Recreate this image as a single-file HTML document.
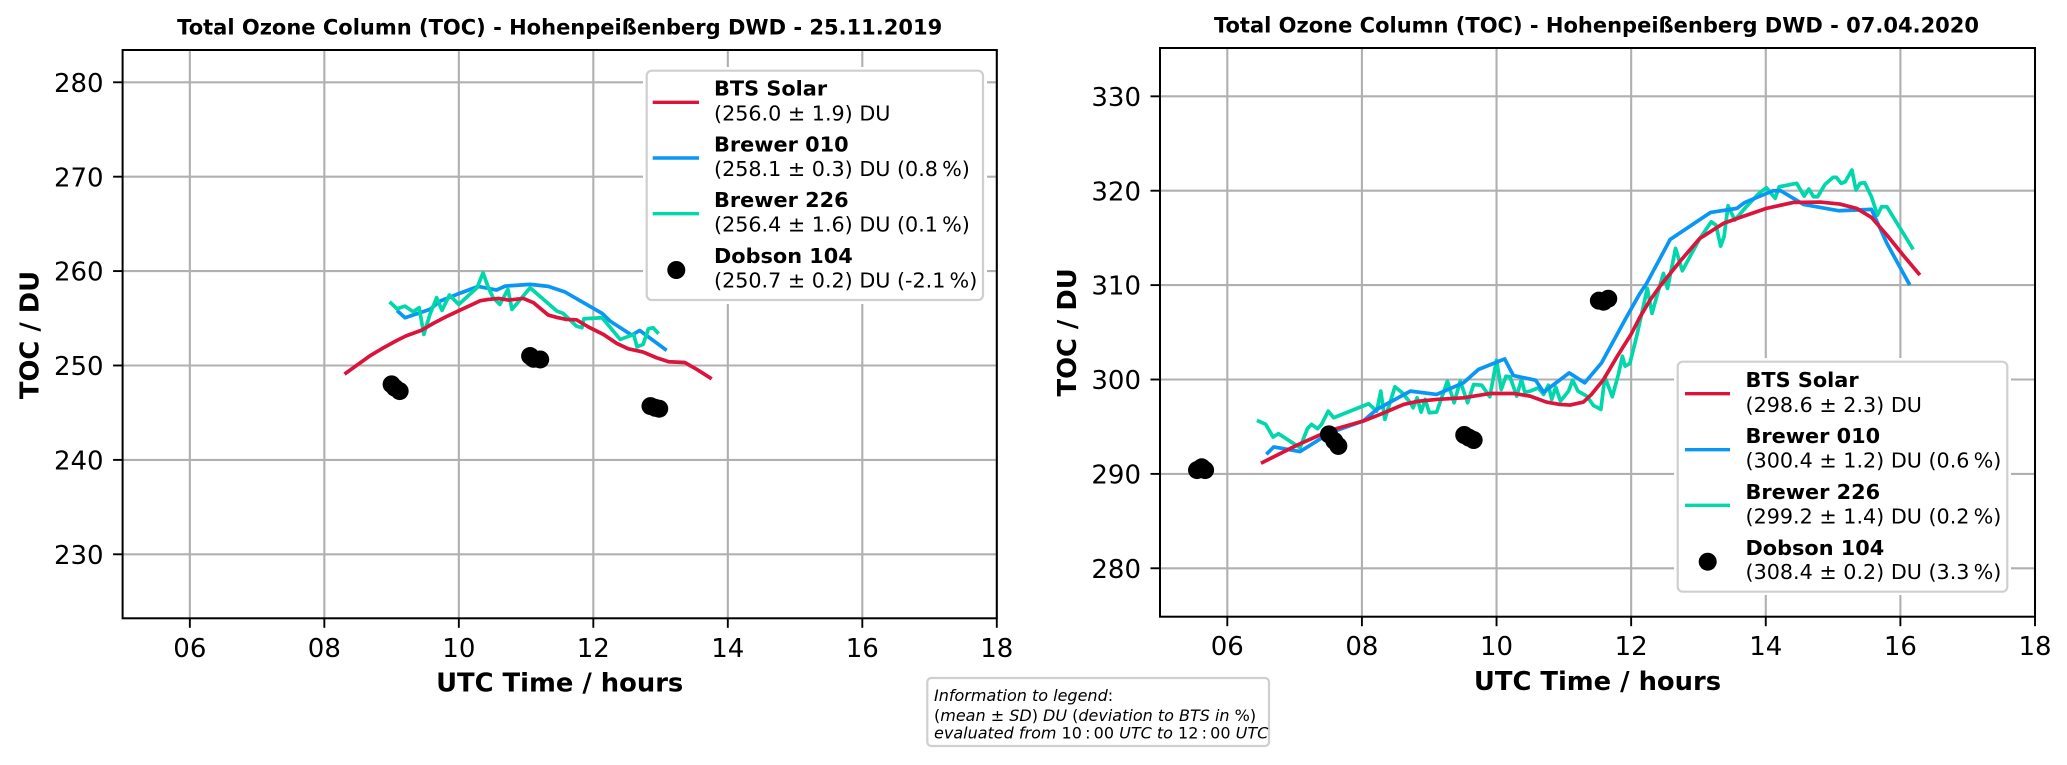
<!DOCTYPE html>
<html lang="en">
<head>
<meta charset="utf-8">
<title>Total Ozone Column (TOC) - Hohenpeißenberg DWD</title>
<style>
html,body{margin:0;padding:0;background:#fff;width:2067px;height:765px;overflow:hidden}
svg{display:block;font-family:"DejaVu Sans","Liberation Sans",sans-serif;fill:#000}
.ttl{font-size:21px;font-weight:700;text-anchor:middle}
.lab{font-size:25.8px;font-weight:700;text-anchor:middle}
.leg{font-size:20.7px}
.legb{font-size:20.83px;font-weight:700}
.frame{fill:#fff;stroke:#cfcfcf;stroke-width:2.2}
.pad{fill:#fff;stroke:none}
.info{font-size:16px}
.info tspan.i{font-style:italic}
.tick-text{font-size:26px}
</style>
</head>
<body>
<svg id="figure" width="2067" height="765" viewBox="0 0 2067 765" xmlns="http://www.w3.org/2000/svg">

  <g id="left-chart">
    <g id="left-grid"></g>
    <g id="left-series"></g>
    <g id="left-axes"></g>
    <text class="ttl" x="559.7" y="34.5">Total Ozone Column (TOC) - Hohenpeißenberg DWD - 25.11.2019</text>
    <text class="lab" x="559.7" y="691.7">UTC Time / hours</text>
    <text class="lab" transform="translate(38.3 335) rotate(-90)" x="0" y="0">TOC / DU</text>
    <g>
      <rect class="pad" x="643" y="67" width="344" height="237" rx="6"></rect>
      <rect class="frame" x="646.7" y="70.7" width="336.3" height="229.3" rx="5"></rect>
      <g>
        <line x1="652.7" x2="699" y1="102.3" y2="102.3" stroke="#dc143c" stroke-width="3.4"></line>
        <text class="legb" x="714" y="95.7">BTS Solar</text>
        <text class="leg" x="714" y="120.4">(256.0 ± 1.9) DU</text>
      </g>
      <g>
        <line x1="652.7" x2="699" y1="158" y2="158" stroke="#0a96f5" stroke-width="3.4"></line>
        <text class="legb" x="714" y="151.5">Brewer 010</text>
        <text class="leg" x="714" y="176">(258.1 ± 0.3) DU (0.8&#8201;%)</text>
      </g>
      <g>
        <line x1="652.7" x2="699" y1="213.7" y2="213.7" stroke="#00d7ab" stroke-width="3.4"></line>
        <text class="legb" x="714" y="207.2">Brewer 226</text>
        <text class="leg" x="714" y="231.7">(256.4 ± 1.6) DU (0.1&#8201;%)</text>
      </g>
      <g>
        <circle cx="676.3" cy="270" r="9" fill="#000"></circle>
        <text class="legb" x="714" y="263.2">Dobson 104</text>
        <text class="leg" x="714" y="287.4">(250.7 ± 0.2) DU (-2.1&#8201;%)</text>
      </g>
    </g>
  </g>

  <g id="right-chart">
    <g id="right-grid"></g>
    <g id="right-series"></g>
    <g id="right-axes"></g>
    <text class="ttl" x="1596.5" y="32.5">Total Ozone Column (TOC) - Hohenpeißenberg DWD - 07.04.2020</text>
    <text class="lab" x="1597.5" y="690.2">UTC Time / hours</text>
    <text class="lab" transform="translate(1076 332.4) rotate(-90)" x="0" y="0">TOC / DU</text>
    <g>
      <rect class="pad" x="1674" y="358" width="337" height="237" rx="6"></rect>
      <rect class="frame" x="1677.7" y="361.7" width="329.6" height="230" rx="5"></rect>
      <g>
        <line x1="1685" x2="1730" y1="393.7" y2="393.7" stroke="#dc143c" stroke-width="3.4"></line>
        <text class="legb" x="1745.5" y="387.2">BTS Solar</text>
        <text class="leg" x="1745.5" y="412">(298.6 ± 2.3) DU</text>
      </g>
      <g>
        <line x1="1685" x2="1730" y1="449.7" y2="449.7" stroke="#0a96f5" stroke-width="3.4"></line>
        <text class="legb" x="1745.5" y="443">Brewer 010</text>
        <text class="leg" x="1745.5" y="467.6">(300.4 ± 1.2) DU (0.6&#8201;%)</text>
      </g>
      <g>
        <line x1="1685" x2="1730" y1="505.3" y2="505.3" stroke="#00d7ab" stroke-width="3.4"></line>
        <text class="legb" x="1745.5" y="498.8">Brewer 226</text>
        <text class="leg" x="1745.5" y="523.4">(299.2 ± 1.4) DU (0.2&#8201;%)</text>
      </g>
      <g>
        <circle cx="1707.7" cy="561.7" r="9" fill="#000"></circle>
        <text class="legb" x="1745.5" y="554.8">Dobson 104</text>
        <text class="leg" x="1745.5" y="579.2">(308.4 ± 0.2) DU (3.3&#8201;%)</text>
      </g>
    </g>
  </g>

  <g>
    <rect class="frame" x="927.3" y="678" width="341.7" height="68" rx="4"></rect>
    <text class="info" x="934" y="701"><tspan class="i">Information to legend</tspan>:</text>
    <text class="info" x="934" y="721">(<tspan class="i">mean</tspan> ± <tspan class="i">SD</tspan>) <tspan class="i">DU</tspan> (<tspan class="i">deviation to BTS in</tspan> %)</text>
    <text class="info" x="934" y="738.3"><tspan class="i">evaluated from</tspan> 10&#8201;:&#8201;00 <tspan class="i">UTC to</tspan> 12&#8201;:&#8201;00 <tspan class="i">UTC</tspan></text>
  </g>
</svg>

<script>
// Shared axis data
const xTickHours = [6, 8, 10, 12, 14, 16, 18];
const xTickLabels = ['06', '08', '10', '12', '14', '16', '18'];
const xLimits = [5, 18];

// Left chart: 25.11.2019
const leftYLimits = [223.22, 283.42];
const leftYTicks = [230, 240, 250, 260, 270, 280];
const leftBtsHours = [8.30,8.48,8.68,8.88,9.08,9.22,9.45,9.62,9.82,10.02,10.17,10.32,10.44,10.59,10.74,10.96,11.11,11.23,11.33,11.46,11.60,11.75,11.93,12.15,12.35,12.52,12.74,12.94,13.12,13.36,13.54,13.76];
const leftBtsValues = [249.09,250.01,251.03,251.88,252.66,253.15,253.75,254.46,255.20,255.87,256.36,256.86,257.00,257.10,256.93,257.10,256.65,255.94,255.34,255.09,254.88,254.84,254.07,253.29,252.34,251.77,251.42,250.82,250.40,250.32,249.58,248.59];
const leftBrewer010Hours = [9.08,9.20,9.57,9.72,9.97,10.29,10.56,10.69,11.06,11.33,11.58,12.13,12.25,12.57,12.69,13.09];
const leftBrewer010Values = [255.83,255.06,255.94,256.82,257.53,258.38,257.99,258.41,258.59,258.38,257.78,255.52,254.70,253.22,253.71,251.60];
const leftBrewer226Hours = [8.97,9.08,9.20,9.32,9.41,9.48,9.57,9.67,9.75,9.86,10.00,10.27,10.36,10.44,10.51,10.61,10.73,10.79,11.06,11.46,11.55,11.75,11.83,11.86,12.13,12.40,12.60,12.65,12.74,12.82,12.89,12.97];
const leftBrewer226Values = [256.75,256.01,256.29,255.69,256.12,253.29,255.41,257.18,255.83,257.46,256.47,258.23,259.82,258.23,257.18,256.47,258.06,255.94,258.23,255.76,255.52,254.17,254.00,254.95,255.06,252.76,253.29,251.98,252.23,253.89,254.00,253.36];
const leftDobsonHours = [9.00,9.05,9.12,11.06,11.11,11.21,12.85,12.92,12.98];
const leftDobsonValues = [248.00,247.64,247.29,251.00,250.71,250.64,245.70,245.52,245.42];

// Right chart: 07.04.2020
const rightYLimits = [274.87, 335.12];
const rightYTicks = [280, 290, 300, 310, 320, 330];
const rightBtsHours = [6.50,7.03,7.53,8.02,8.27,8.62,8.82,9.11,9.51,9.91,10.25,10.50,10.74,10.94,11.09,11.29,11.41,11.59,11.78,12.00,12.13,12.28,12.43,12.72,13.02,13.37,13.62,14.01,14.41,14.81,15.10,15.35,15.57,15.80,16.04,16.29];
const rightBtsValues = [291.13,293.03,294.61,295.60,296.30,297.36,297.68,297.89,298.06,298.52,298.52,298.24,297.61,297.36,297.29,297.61,298.42,300.00,302.30,304.80,306.60,308.40,309.90,312.47,314.95,316.54,317.17,318.13,318.76,318.80,318.59,318.13,317.17,315.30,313.18,311.06];
const rightBrewer010Hours = [6.58,6.69,7.08,7.53,8.02,8.22,8.72,9.11,9.51,9.73,10.12,10.25,10.58,10.70,11.08,11.31,11.56,11.91,12.13,12.23,12.58,13.18,13.57,13.69,14.11,14.22,14.56,15.08,15.57,15.80,16.14];
const rightBrewer010Values = [292.08,292.85,292.36,294.37,295.60,296.83,298.77,298.42,299.65,301.06,302.18,300.42,299.93,298.66,300.70,299.65,301.76,306.34,309.12,310.18,314.84,317.70,318.13,318.76,320.00,320.00,318.55,317.88,318.02,314.42,310.00];
const rightBrewer226Hours = [6.44,6.57,6.68,6.76,7.08,7.19,7.25,7.34,7.40,7.50,7.58,8.10,8.22,8.28,8.34,8.49,8.59,8.72,8.76,8.82,8.88,8.94,9.00,9.11,9.27,9.37,9.46,9.57,9.66,9.78,9.90,10.00,10.07,10.14,10.20,10.30,10.37,10.42,10.50,10.62,10.70,10.77,10.82,10.88,10.95,11.07,11.13,11.21,11.34,11.44,11.55,11.61,11.72,11.81,11.87,11.91,11.98,12.08,12.24,12.31,12.40,12.48,12.54,12.66,12.76,13.02,13.19,13.26,13.33,13.38,13.44,13.54,13.71,13.91,14.01,14.14,14.20,14.46,14.57,14.64,14.71,14.77,14.88,15.00,15.05,15.12,15.18,15.28,15.34,15.40,15.47,15.57,15.66,15.72,15.80,16.19];
const rightBrewer226Values = [295.67,295.25,293.90,294.26,292.78,294.79,295.25,294.79,295.25,296.65,295.95,297.43,296.65,298.77,295.77,299.23,298.66,297.54,297.00,298.06,296.55,297.89,296.48,296.55,299.82,297.54,299.82,297.54,299.47,299.40,298.17,302.04,298.94,300.35,300.28,298.24,300.00,298.66,298.77,299.12,298.42,299.40,297.89,299.19,297.71,298.77,299.93,298.77,298.24,297.25,296.83,300.28,298.17,300.53,302.46,301.41,301.69,304.52,309.65,307.00,309.29,311.24,309.65,313.89,311.52,314.95,316.71,316.36,314.13,315.12,318.41,316.89,318.30,319.79,320.32,319.19,320.42,320.78,319.43,320.18,319.36,319.36,320.67,321.41,321.41,320.78,320.95,322.19,320.07,320.78,320.85,319.36,317.42,318.30,318.30,313.78];
const rightDobsonHours = [5.55,5.62,5.67,7.51,7.59,7.65,9.52,9.59,9.66,11.52,11.59,11.66];
const rightDobsonValues = [290.40,290.70,290.40,294.19,293.49,292.96,294.12,293.84,293.59,308.35,308.24,308.56];

const SVG_NS = 'http://www.w3.org/2000/svg';
const COLOR_BTS = '#dc143c';
const COLOR_B010 = '#0a96f5';
const COLOR_B226 = '#00d7ab';

function linearScale(domain, range) {
  return function (v) {
    return range[0] + (v - domain[0]) * (range[1] - range[0]) / (domain[1] - domain[0]);
  };
}

function make(tag, attrs, parent) {
  const el = document.createElementNS(SVG_NS, tag);
  Object.keys(attrs).forEach(function (k) { el.setAttribute(k, attrs[k]); });
  parent.appendChild(el);
  return el;
}

function drawSeries(parent, hours, values, color, name, xs, ys) {
  const pts = hours.map(function (h, i) { return xs(h).toFixed(2) + ',' + ys(values[i]).toFixed(2); }).join(' ');
  const line = make('polyline', { points: pts, fill: 'none', stroke: color, 'stroke-width': 3.7, 'stroke-linejoin': 'round' }, parent);
  
  
}

function drawChart(prefix, box, yLimits, yTicks, series, dobsonHours, dobsonValues) {
  const xs = linearScale(xLimits, [box.left, box.right]);
  const ys = linearScale(yLimits, [box.bottom, box.top]);
  const grid = document.getElementById(prefix + '-grid');
  const marks = document.getElementById(prefix + '-series');
  const axes = document.getElementById(prefix + '-axes');

  xTickHours.forEach(function (h, i) {
    const x = xs(h);
    const g = make('line', { x1: x, x2: x, y1: box.top, y2: box.bottom, stroke: '#b0b0b0', 'stroke-width': 2.1 }, grid);
    
    
    const t = make('line', { x1: x, x2: x, y1: box.bottom, y2: box.bottom + 9.5, stroke: '#000', 'stroke-width': 1.9 }, axes);
    
    
    const l = make('text', { x: x, y: box.bottom + 38.5, 'text-anchor': 'middle', class: 'tick-text' }, axes);
    
    
    l.textContent = xTickLabels[i];
  });

  yTicks.forEach(function (v) {
    const y = ys(v);
    const g = make('line', { x1: box.left, x2: box.right, y1: y, y2: y, stroke: '#b0b0b0', 'stroke-width': 2.1 }, grid);
    
    
    const t = make('line', { x1: box.left - 9.5, x2: box.left, y1: y, y2: y, stroke: '#000', 'stroke-width': 1.9 }, axes);
    
    
    const l = make('text', { x: box.left - 19, y: y + 9.6, 'text-anchor': 'end', class: 'tick-text' }, axes);
    
    
    l.textContent = String(v);
  });

  series.forEach(function (s) {
    drawSeries(marks, s.hours, s.values, s.color, s.name, xs, ys);
  });

  dobsonHours.forEach(function (h, i) {
    const c = make('circle', { cx: xs(h), cy: ys(dobsonValues[i]), r: 9, fill: '#000' }, marks);
    
    
  });

  const frame = make('rect', { x: box.left, y: box.top, width: box.right - box.left, height: box.bottom - box.top, fill: 'none', stroke: '#000', 'stroke-width': 2 }, axes);
  
  
}

drawChart('left', { left: 122.6, right: 996.8, top: 50, bottom: 618.3 }, leftYLimits, leftYTicks, [
  { hours: leftBrewer010Hours, values: leftBrewer010Values, color: COLOR_B010, name: 'brewer-010-line' },
  { hours: leftBrewer226Hours, values: leftBrewer226Values, color: COLOR_B226, name: 'brewer-226-line' },
  { hours: leftBtsHours, values: leftBtsValues, color: COLOR_BTS, name: 'bts-solar-line' }
], leftDobsonHours, leftDobsonValues);

drawChart('right', { left: 1160, right: 2035, top: 48, bottom: 616.7 }, rightYLimits, rightYTicks, [
  { hours: rightBrewer226Hours, values: rightBrewer226Values, color: COLOR_B226, name: 'brewer-226-line' },
  { hours: rightBrewer010Hours, values: rightBrewer010Values, color: COLOR_B010, name: 'brewer-010-line' },
  { hours: rightBtsHours, values: rightBtsValues, color: COLOR_BTS, name: 'bts-solar-line' }
], rightDobsonHours, rightDobsonValues);
</script>
</body>
</html>
